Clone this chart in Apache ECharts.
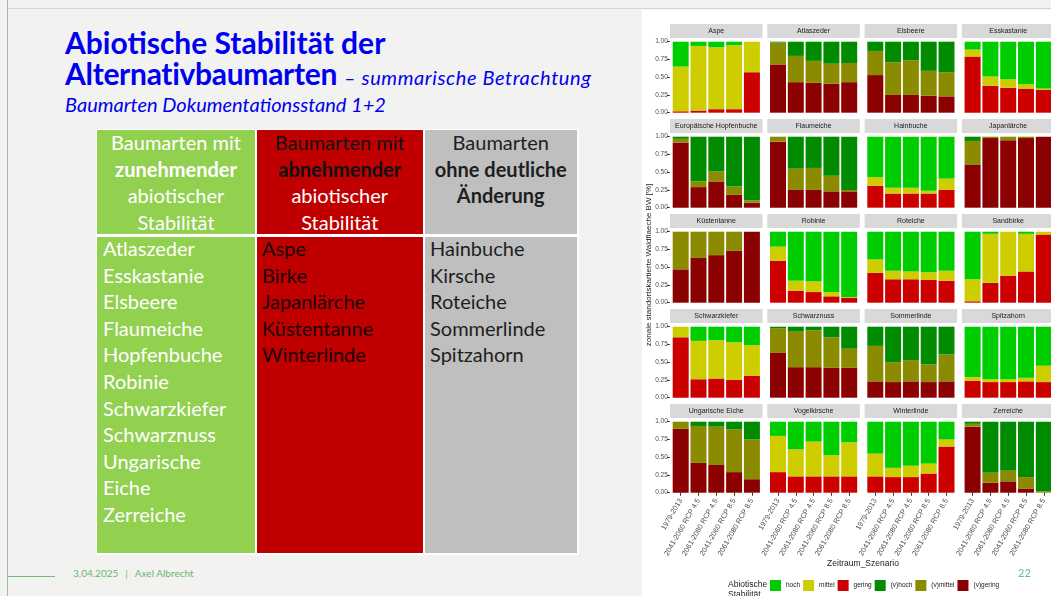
<!DOCTYPE html>
<html><head><meta charset="utf-8">
<script src="https://cdn.jsdelivr.net/npm/echarts@6/dist/echarts.min.js"></script>
<style>
html,body{margin:0;padding:0;}
body{width:1051px;height:596px;overflow:hidden;position:relative;background:#f2f2f1;font-family:Lato,"Open Sans",sans-serif;}
.abs{position:absolute;white-space:nowrap;}
.cell{position:absolute;}
.hdr{position:absolute;text-align:center;font-size:20px;line-height:26.5px;}
.body{position:absolute;font-size:20px;line-height:26.6px;}
</style></head>
<body>
<div class="abs" style="left:7px;top:0;width:1px;height:596px;background:#b0b0b0"></div>
<div class="abs" style="left:8px;top:8px;width:1043px;height:1px;background:#d6d6d6"></div>

<div class="abs" style="left:65px;top:24px;font-size:30px;font-weight:bold;color:#0000f0;line-height:36px">Abiotische Stabilität der</div>
<div class="abs" style="left:65px;top:55px;font-size:30px;font-weight:bold;color:#0000f0;line-height:36px;letter-spacing:-0.3px">Alternativbaumarten <span style="font-size:20px;font-weight:normal;font-style:italic;letter-spacing:0.6px">– summarische Betrachtung</span></div>
<div class="abs" style="left:65px;top:92px;font-size:20px;font-style:italic;color:#0000f0;line-height:24px">Baumarten Dokumentationsstand 1+2</div>

<div class="cell" style="left:95.5px;top:128.5px;width:483px;height:426px;background:#ffffff"></div>
<div class="cell" style="left:97px;top:130px;width:158px;height:104px;background:#92d050"></div>
<div class="cell" style="left:256.5px;top:130px;width:166.5px;height:104px;background:#c00000"></div>
<div class="cell" style="left:424.5px;top:130px;width:152.5px;height:104px;background:#bfbfbf"></div>
<div class="cell" style="left:97px;top:237px;width:158px;height:316px;background:#92d050"></div>
<div class="cell" style="left:256.5px;top:237px;width:166.5px;height:316px;background:#c00000"></div>
<div class="cell" style="left:424.5px;top:237px;width:152.5px;height:316px;background:#bfbfbf"></div>

<div class="hdr" style="left:97px;top:129px;width:158px;color:#ffffff">Baumarten mit<br><b>zunehmender</b><br>abiotischer<br>Stabilität</div>
<div class="hdr" style="left:256.5px;top:129px;width:166.5px;color:#ffffff"><span style="color:#111">Baumarten mit</span><br><b style="color:#111">abnehmender</b><br>abiotischer<br>Stabilität</div>
<div class="hdr" style="left:424.5px;top:129px;width:152.5px;color:#1e1e1e">Baumarten<br><b>ohne deutliche<br>Änderung</b></div>

<div class="body" id="colGreen" style="left:103px;top:235px;color:#ffffff"></div>
<div class="body" id="colRed" style="left:262px;top:235px;color:#1a0000"></div>
<div class="body" id="colGray" style="left:430px;top:235px;color:#1e1e1e"></div>

<div class="abs" style="left:8px;top:576px;width:47px;height:1px;background:#6fbf7a"></div>
<div class="abs" style="left:73px;top:566px;font-size:10px;color:#6db56d;line-height:14px">3.04.2025<span style="margin:0 7px">|</span>Axel Albrecht</div>

<div id="chart" style="position:absolute;left:642px;top:10px;width:420px;height:586px;background:#ffffff"></div>
<div class="abs" style="left:1018px;top:565px;font-size:11px;color:#5fb8a3;line-height:16px;z-index:5">22</div>

<script>
// ---- Table content ----
const increasing = ['Atlaszeder','Esskastanie','Elsbeere','Flaumeiche','Hopfenbuche','Robinie','Schwarzkiefer','Schwarznuss','Ungarische','Eiche','Zerreiche'];
const decreasing = ['Aspe','Birke','Japanlärche','Küstentanne','Winterlinde'];
const unchanged = ['Hainbuche','Kirsche','Roteiche','Sommerlinde','Spitzahorn'];

// ---- Chart data ----
const periods = ['1979-2013','2041-2060 RCP 4.5','2061-2080 RCP 4.5','2041-2060 RCP 8.5','2061-2080 RCP 8.5'];
const species = ['Aspe','Atlaszeder','Elsbeere','Esskastanie',
  'Europäische Hopfenbuche','Flaumeiche','Hainbuche','Japanlärche',
  'Küstentanne','Robinie','Roteiche','Sandbirke',
  'Schwarzkiefer','Schwarznuss','Sommerlinde','Spitzahorn',
  'Ungarische Eiche','Vogelkirsche','Winterlinde','Zerreiche'];
const classNames = ['hoch','mittel','gering','(v)hoch','(v)mittel','(v)gering'];
const classColors = ['#00cd00','#cdcd00','#cd0000','#008b00','#8b8b00','#8b0000'];
const yTicks = [0, 0.25, 0.5, 0.75, 1];

const hoch = [
  [0.35,0.06,0.08,0.05,0],[0,0,0,0,0],[0,0,0,0,0],[0.11,0.49,0.53,0.60,0.66],
  [0,0,0,0,0],[0,0,0,0,0],[0.57,0.72,0.72,0.76,0.59],[0,0,0,0,0],
  [0,0,0,0,0],[0.21,0.69,0.70,0.85,0.92],[0.39,0.55,0.56,0.57,0.55],[0.67,0.03,0,0.03,0],
  [0,0.20,0.19,0.22,0.26],[0,0,0,0,0],[0,0,0,0,0],[0.71,0.74,0.74,0.72,0.55],
  [0,0,0,0,0],[0.20,0.39,0.28,0.47,0.29],[0.45,0.65,0.62,0.59,0.25],[0,0,0,0,0]
];
const mittel = [
  [0.63,0.91,0.87,0.90,0.43],[0,0,0,0,0],[0,0,0,0,0],[0.10,0.13,0.12,0.06,0.02],
  [0,0,0,0,0],[0,0,0,0,0],[0.12,0.08,0.08,0.04,0.16],[0,0,0,0,0],
  [0,0,0,0,0],[0.20,0.14,0.15,0.06,0.01],[0.19,0.12,0.11,0.11,0.14],[0.31,0.69,0.62,0.53,0.04],
  [0.15,0.54,0.54,0.53,0.43],[0,0,0,0,0],[0,0,0,0,0],[0.05,0.04,0.04,0.05,0.23],
  [0,0,0,0,0],[0.51,0.38,0.49,0.30,0.48],[0.32,0.13,0.16,0.14,0.10],[0,0,0,0,0]
];
const gering = [
  [0.02,0.03,0.05,0.05,0.57],[0,0,0,0,0],[0,0,0,0,0],[0.79,0.38,0.35,0.34,0.32],
  [0,0,0,0,0],[0,0,0,0,0],[0.31,0.20,0.20,0.20,0.25],[0,0,0,0,0],
  [0,0,0,0,0],[0.59,0.17,0.15,0.09,0.07],[0.42,0.33,0.33,0.32,0.31],[0.02,0.28,0.38,0.44,0.96],
  [0.85,0.26,0.27,0.25,0.31],[0,0,0,0,0],[0,0,0,0,0],[0.24,0.22,0.22,0.23,0.22],
  [0,0,0,0,0],[0.29,0.23,0.23,0.23,0.23],[0.23,0.22,0.22,0.27,0.65],[0,0,0,0,0]
];
const vHoch = [
  [0,0,0,0,0],[0.01,0.20,0.27,0.31,0.30],[0.13,0.29,0.26,0.41,0.43],[0,0,0,0,0],
  [0.03,0.63,0.49,0.70,0.90],[0,0.45,0.44,0.55,0.75],[0,0,0,0,0],[0.06,0,0,0,0],
  [0,0,0,0,0],[0,0,0,0,0],[0,0,0,0,0],[0,0,0,0,0],
  [0,0,0,0,0],[0.02,0.07,0.05,0.15,0.31],[0.27,0.50,0.47,0.53,0.39],[0,0,0,0,0],
  [0,0.06,0.07,0.11,0.25],[0,0,0,0,0],[0,0,0,0,0],[0.03,0.72,0.69,0.78,0.98]
];
const vMittel = [
  [0,0,0,0,0],[0.31,0.37,0.31,0.28,0.27],[0.34,0.46,0.49,0.35,0.34],[0,0,0,0,0],
  [0.05,0.08,0.14,0.12,0.03],[0.07,0.30,0.31,0.22,0.02],[0,0,0,0,0],[0.33,0.02,0.05,0.02,0],
  [0.53,0.37,0.33,0.27,0],[0,0,0,0,0],[0,0,0,0,0],[0,0,0,0,0],
  [0,0,0,0,0],[0.35,0.50,0.52,0.43,0.27],[0.50,0.28,0.30,0.25,0.38],[0,0,0,0,0],
  [0.10,0.52,0.54,0.60,0.56],[0,0,0,0,0],[0,0,0,0,0],[0.04,0.14,0.15,0.16,0.02]
];
const vGering = [
  [0,0,0,0,0],[0.68,0.43,0.42,0.41,0.43],[0.53,0.25,0.25,0.24,0.23],[0,0,0,0,0],
  [0.92,0.29,0.37,0.18,0.07],[0.93,0.25,0.25,0.23,0.23],[0,0,0,0,0],[0.61,0.98,0.95,0.98,1.00],
  [0.47,0.63,0.67,0.73,1.00],[0,0,0,0,0],[0,0,0,0,0],[0,0,0,0,0],
  [0,0,0,0,0],[0.63,0.43,0.43,0.42,0.42],[0.23,0.22,0.23,0.22,0.23],[0,0,0,0,0],
  [0.90,0.42,0.39,0.29,0.19],[0,0,0,0,0],[0,0,0,0,0],[0.93,0.14,0.16,0.06,0]
];

document.getElementById('colGreen').innerHTML = increasing.join('<br>');
document.getElementById('colRed').innerHTML = decreasing.join('<br>');
document.getElementById('colGray').innerHTML = unchanged.join('<br>');

// ---- layout ----
const FONT = '"Liberation Sans", Arial, sans-serif';
const panelX0 = 28, panelStep = 97.3, panelW = 92.5;
const rowStep = 95, stripTop0 = 14, stripH = 14, dataTop0 = 31.7, dataH = 71;
const innerPad = 1.8, innerW = 89;

const chart = echarts.init(document.getElementById('chart'));
const grids = [], xAxes = [], yAxes = [], series = [], graphics = [];
const stackOrder = [ // bottom to top
  [vGering, 5], [vMittel, 4], [vHoch, 3], [gering, 2], [mittel, 1], [hoch, 0]
];
species.forEach((sp, p) => {
  const r = Math.floor(p / 4), c = p % 4;
  const pl = panelX0 + c * panelStep;
  grids.push({left: pl + innerPad, top: dataTop0 + r * rowStep, width: innerW, height: dataH});
  xAxes.push({
    type: 'category', gridIndex: p, data: periods, offset: 3.6,
    axisLine: {show: false},
    axisTick: {show: r === 4, length: 3, alignWithLabel: true, lineStyle: {color: '#333'}},
    axisLabel: {show: r === 4, rotate: 60, fontSize: 7.3, color: '#4d4d4d', margin: 3, fontFamily: FONT, interval: 0},
    splitLine: {show: false}
  });
  yAxes.push({
    type: 'value', gridIndex: p, min: 0, max: 1, interval: 0.25, offset: 2,
    axisLine: {show: false},
    axisTick: {show: c === 0, length: 3, lineStyle: {color: '#333'}},
    axisLabel: {show: c === 0, fontSize: 6.5, color: '#4d4d4d', margin: 2, fontFamily: FONT,
      formatter: v => yTicks.indexOf(v) >= 0 ? v.toFixed(2) : ''},
    splitLine: {show: false}
  });
  stackOrder.forEach(([arr, ci]) => {
    series.push({
      type: 'bar', name: classNames[ci], xAxisIndex: p, yAxisIndex: p, stack: 'p' + p,
      barWidth: 16, data: arr[p], itemStyle: {color: classColors[ci]}, silent: true
    });
  });
  graphics.push({type: 'rect', shape: {x: pl, y: stripTop0 + r * rowStep, width: panelW, height: stripH},
    style: {fill: '#d9d9d9'}, silent: true});
  graphics.push({type: 'text', x: pl + panelW / 2, y: stripTop0 + r * rowStep + stripH / 2,
    style: {text: sp, fontSize: 7, fill: '#1a1a1a', fontFamily: FONT, textAlign: 'center', textVerticalAlign: 'middle'}, silent: true});
});
graphics.push({type: 'text', x: 7, y: 255, rotation: Math.PI / 2,
  style: {text: 'zonale standortskartierte Waldflaeche BW [%]', fontSize: 8, fill: '#1a1a1a', fontFamily: FONT, textAlign: 'center', textVerticalAlign: 'middle'}});
graphics.push({type: 'text', x: 221, y: 554,
  style: {text: 'Zeitraum_Szenario', fontSize: 8.5, fill: '#1a1a1a', fontFamily: FONT, textAlign: 'center', textVerticalAlign: 'middle'}});
graphics.push({type: 'text', x: 86, y: 569,
  style: {text: 'Abiotische\nStabilität', fontSize: 8.5, lineHeight: 10.5, fill: '#1a1a1a', fontFamily: FONT, textAlign: 'left', textVerticalAlign: 'top'}});

chart.setOption({
  animation: false,
  grid: grids, xAxis: xAxes, yAxis: yAxes, series: series,
  legend: {
    left: 128, top: 570, itemWidth: 11, itemHeight: 11, itemGap: 3, padding: 0, icon: 'rect',
    data: classNames, selectedMode: false,
    textStyle: {fontSize: 6.5, color: '#1a1a1a', fontFamily: FONT}
  },
  graphic: graphics
});
</script>
</body></html>
